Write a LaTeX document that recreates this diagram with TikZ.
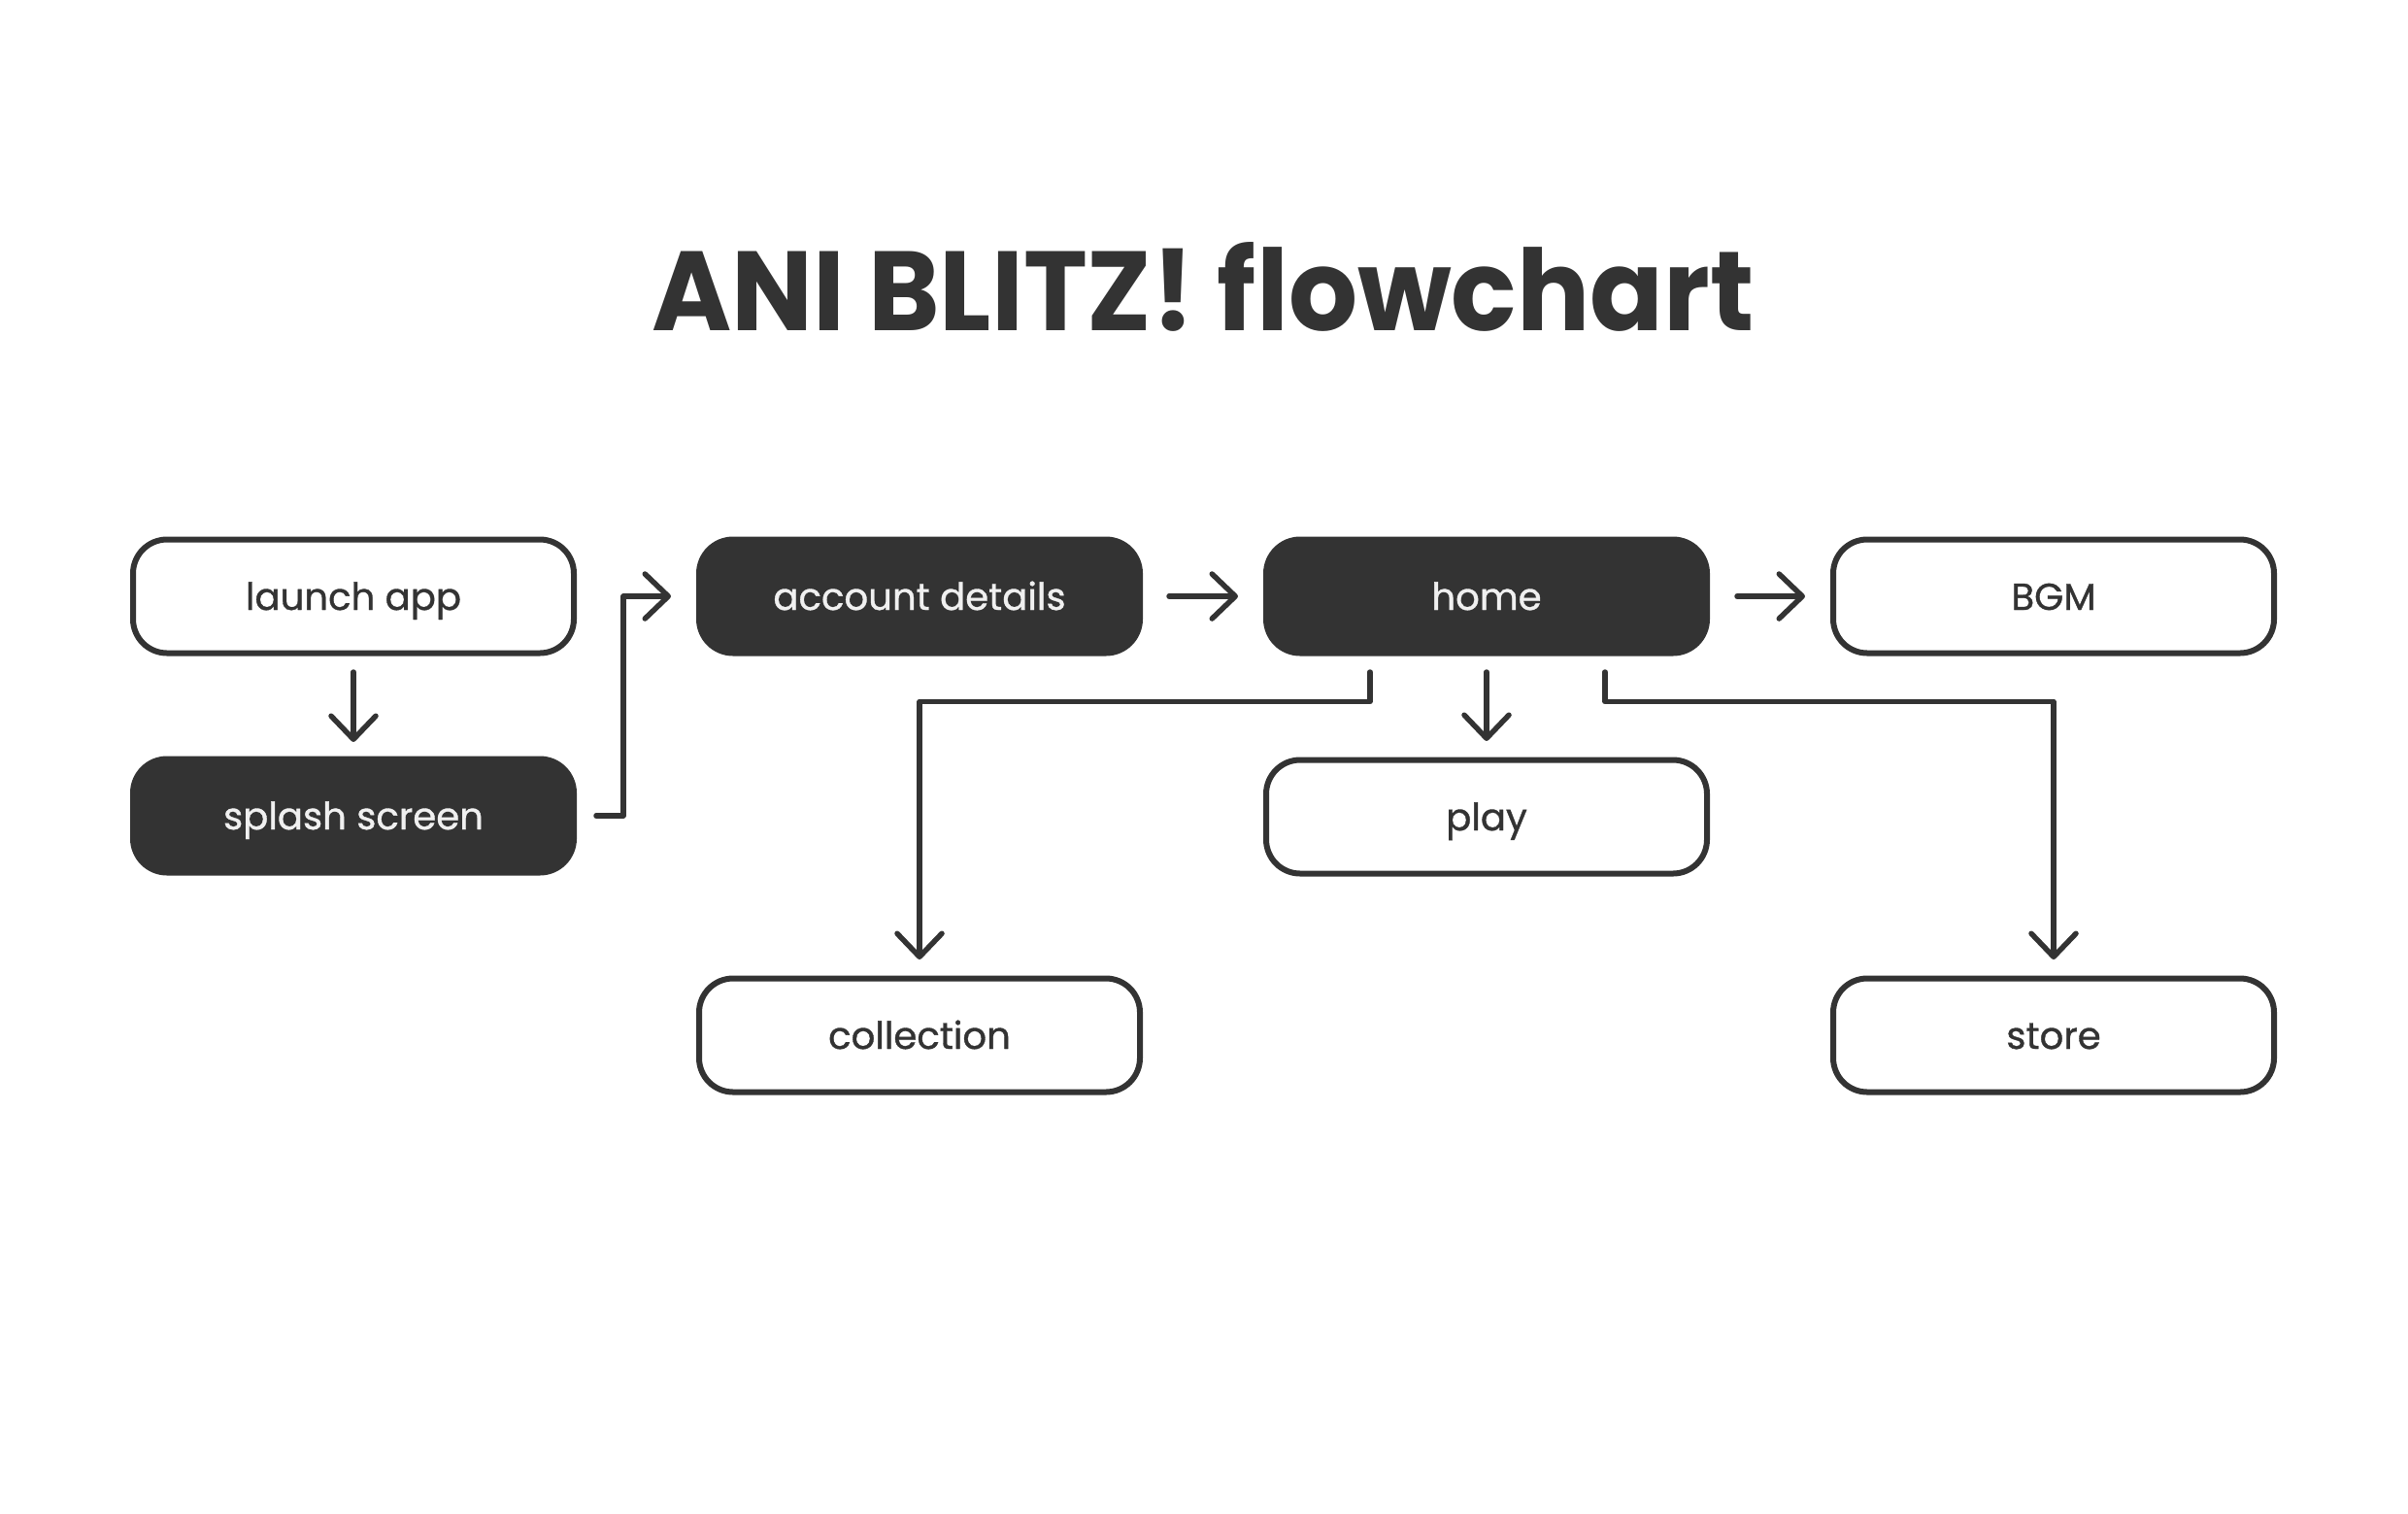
\documentclass[tikz,border=0pt]{standalone}
\usepackage{fontspec}
\setmainfont{Poppins}
\newfontfamily\labelfont[FakeBold=0.9]{Poppins}
\usetikzlibrary{arrows.meta,positioning}
\definecolor{ink}{HTML}{333333}
\definecolor{chalk}{HTML}{F0F0F0}
\tikzset{
        box/.style={rectangle, rounded corners=0.35cm, draw=ink, line width=0.06cm,
                minimum width=4.54cm, minimum height=1.17cm, text=ink,
                text height=0.32cm, text depth=0.04cm, font=\labelfont\fontsize{11}{13}\selectfont},
        darkbox/.style={box, fill=ink, text=chalk},
        link/.style={draw=ink, line width=0.055cm, line cap=round, line join=round,
                -{Straight Barb[length=0.24cm, width=0.46cm, round]}}
}
\begin{document}
\begin{tikzpicture}
        \useasboundingbox (0,0) rectangle (24.8,-15.58);
        \path (12.39,-3.40) node[anchor=base, text=ink, inner sep=0pt] (title) {\resizebox{11.35cm}{0.91cm}{\textbf{ANI BLITZ! flowchart}}};
        % boxes
        \path (3.64,-6.14) node[box] (launch) {launch app};
        \path (3.64,-8.40) node[darkbox] (splash) {splash screen};
        \path (9.47,-6.14) node[darkbox] (account) {account details};
        \path (15.31,-6.14) node[darkbox] (home) {home};
        \path (21.15,-6.14) node[box] (bgm) {BGM};
        \path (15.31,-8.41) node[box] (play) {play};
        \path (9.47,-10.66) node[box] (collection) {collection};
        \path (21.15,-10.66) node[box] (store) {store};
        % arrows
        \draw[link, shorten <=0.165cm, shorten >=0.145cm] (launch) -- (splash);
        \draw[link, shorten <=0.2cm, shorten >=0.26cm] (splash.east) -- ++(0.48,0) |- (account.west);
        \draw[link, shorten <=0.27cm, shorten >=0.26cm] (account) -- (home);
        \draw[link, shorten <=0.28cm, shorten >=0.26cm] (home) -- (bgm);
        \draw[link, shorten <=0.165cm, shorten >=0.165cm] (home) -- (play);
        \draw[link, shorten <=0.165cm, shorten >=0.165cm] ([xshift=-1.2cm]home.south) -- ++(0,-0.47) -| (collection.north);
        \draw[link, shorten <=0.165cm, shorten >=0.165cm] ([xshift=1.22cm]home.south) -- ++(0,-0.47) -| (store.north);
\end{tikzpicture}
\end{document}
